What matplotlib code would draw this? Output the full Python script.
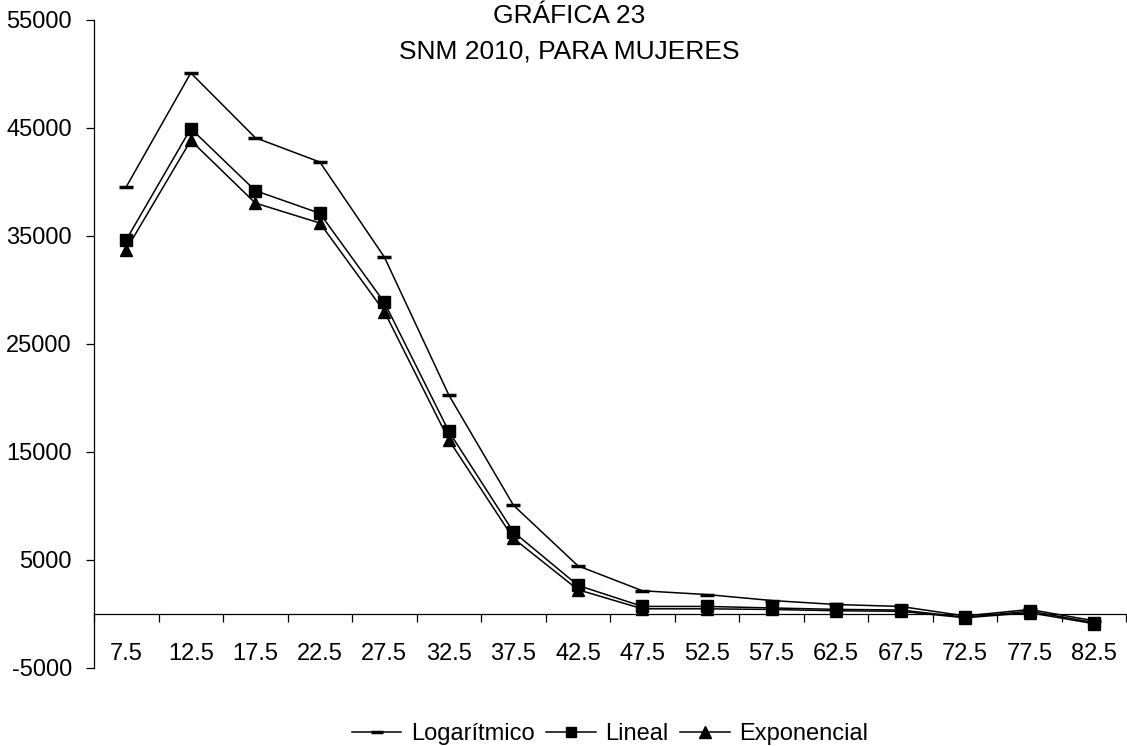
import matplotlib
matplotlib.use("Agg")
import matplotlib.pyplot as plt
import numpy as np

plt.rcParams['font.family'] = ['Liberation Sans', 'DejaVu Sans']

categories = ["7.5", "12.5", "17.5", "22.5", "27.5", "32.5", "37.5", "42.5",
              "47.5", "52.5", "57.5", "62.5", "67.5", "72.5", "77.5", "82.5"]
logaritmico = [39550, 50100, 44100, 41850, 33050, 20260, 10070, 4460,
               2150, 1800, 1250, 880, 700, -180, 420, -630]
lineal = [34650, 44950, 39200, 37100, 28850, 16900, 7600, 2650,
          700, 700, 560, 430, 370, -300, 260, -800]
exponencial = [33750, 43850, 38050, 36200, 28000, 16100, 7000, 2250,
               480, 480, 420, 300, 250, -350, 120, -900]
yticks = [-5000, 5000, 15000, 25000, 35000, 45000, 55000]
title_lines = ["GRÁFICA 23", "SNM 2010, PARA MUJERES"]

W, H = 1127, 746
fig = plt.figure(figsize=(W / 100, H / 100), dpi=100)
ax = fig.add_axes([94 / W, 1 - 668 / H, 1 - 94 / W - 0.0005, (668 - 20) / H])

x = np.arange(len(categories))
lw = 1.1
l1, = ax.plot(x, logaritmico, color='black', lw=lw, marker='_', markersize=10,
              markeredgewidth=2.5, label='Logarítmico', clip_on=False)
l2, = ax.plot(x, lineal, color='black', lw=lw, marker='s', markersize=8,
              label='Lineal', clip_on=False)
l3, = ax.plot(x, exponencial, color='black', lw=lw, marker='^', markersize=9,
              label='Exponencial', clip_on=False)

ax.set_xlim(-0.5, len(categories) - 0.5)
ax.set_ylim(-5000, 55000)
ax.set_yticks(yticks)
ax.set_yticklabels([str(v) for v in yticks])

ax.spines['top'].set_visible(False)
ax.spines['right'].set_visible(False)
ax.spines['bottom'].set_position(('data', 0))
ax.spines['left'].set_linewidth(0.9)
ax.spines['bottom'].set_linewidth(0.9)

ax.set_xticks(np.arange(len(categories) + 1) - 0.5)
ax.set_xticklabels([])
ax.set_xticks(x, minor=True)
ax.set_xticklabels(categories, minor=True)
ax.tick_params(axis='x', which='major', direction='out', length=6, width=0.9)
ax.tick_params(axis='x', which='minor', length=0, pad=21, labelsize=17)
ax.tick_params(axis='y', direction='out', length=6, width=0.9, pad=10, labelsize=17)

fig.text(0.505, 1 - 23 / H, title_lines[0], ha='center', va='baseline', fontsize=19)
fig.text(0.505, 1 - 58 / H, title_lines[1], ha='center', va='baseline', fontsize=19)

fig.legend(handles=[l1, l2, l3], loc='center', bbox_to_anchor=(610 / W, 0.016),
           ncol=3, frameon=False, fontsize=17, handlelength=2.1,
           handletextpad=0.4, columnspacing=0.5, markerscale=0.9)

fig.savefig("out.png", dpi=100)
